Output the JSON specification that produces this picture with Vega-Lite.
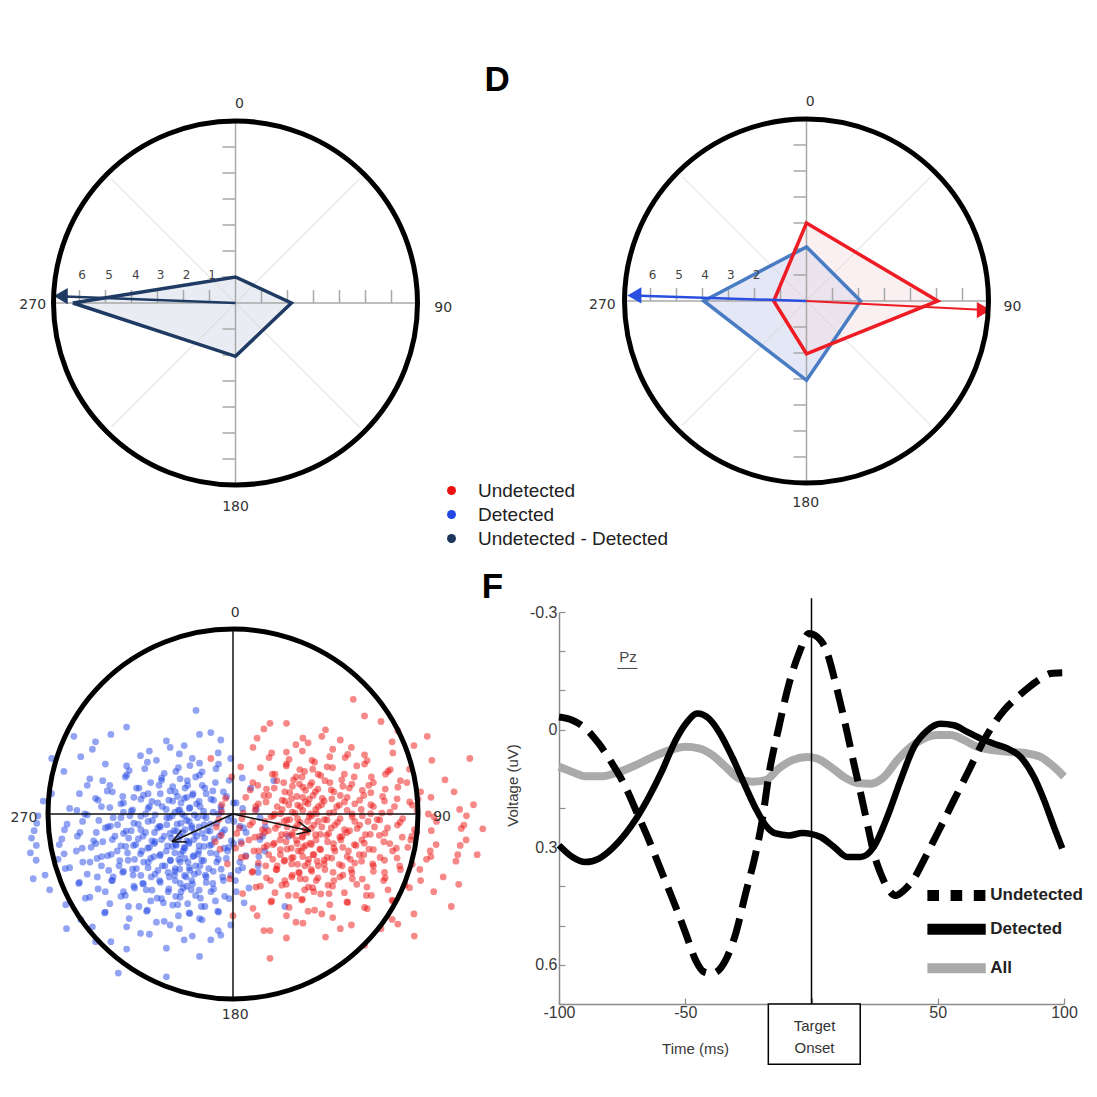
{
"$schema":"https://vega.github.io/schema/vega-lite/v6.json",
"background":"white",
"padding":{"left":10,"top":40,"right":5,"bottom":5},
"bounds":"flush",
"columns":2,
"spacing":{"row":83,"column":100},
"config":{"view":{"stroke":null},"text":{"font":"Liberation Sans"}},
"datasets":{
"grid":[
{"k":"d","x":-4.77,"y":4.77,"x2":4.77,"y2":-4.77},{"k":"d","x":4.77,"y":4.77,"x2":-4.77,"y2":-4.77},
{"k":"a","x":-7,"y":0,"x2":7,"y2":0},{"k":"a","x":0,"y":-7,"x2":0,"y2":7},
{"k":"t","x":-6,"y":0,"x2":-6,"y2":0.5},{"k":"t","x":-5,"y":0,"x2":-5,"y2":0.5},{"k":"t","x":-4,"y":0,"x2":-4,"y2":0.5},{"k":"t","x":-3,"y":0,"x2":-3,"y2":0.5},{"k":"t","x":-2,"y":0,"x2":-2,"y2":0.5},{"k":"t","x":-1,"y":0,"x2":-1,"y2":0.5},
{"k":"t","x":1,"y":0,"x2":1,"y2":0.5},{"k":"t","x":2,"y":0,"x2":2,"y2":0.5},{"k":"t","x":3,"y":0,"x2":3,"y2":0.5},{"k":"t","x":4,"y":0,"x2":4,"y2":0.5},{"k":"t","x":5,"y":0,"x2":5,"y2":0.5},{"k":"t","x":6,"y":0,"x2":6,"y2":0.5},
{"k":"t","x":-0.5,"y":-6,"x2":0,"y2":-6},{"k":"t","x":-0.5,"y":-5,"x2":0,"y2":-5},{"k":"t","x":-0.5,"y":-4,"x2":0,"y2":-4},{"k":"t","x":-0.5,"y":-3,"x2":0,"y2":-3},{"k":"t","x":-0.5,"y":-2,"x2":0,"y2":-2},{"k":"t","x":-0.5,"y":-1,"x2":0,"y2":-1},
{"k":"t","x":-0.5,"y":1,"x2":0,"y2":1},{"k":"t","x":-0.5,"y":2,"x2":0,"y2":2},{"k":"t","x":-0.5,"y":3,"x2":0,"y2":3},{"k":"t","x":-0.5,"y":4,"x2":0,"y2":4},{"k":"t","x":-0.5,"y":5,"x2":0,"y2":5},{"k":"t","x":-0.5,"y":6,"x2":0,"y2":6}
],
"tlpoly":[{"x":-6.25,"y":0,"y2":0},{"x":0,"y":1.0,"y2":-2.05},{"x":2.15,"y":0,"y2":0}],
"trblue":[{"x":-3.95,"y":0,"y2":0},{"x":0,"y":2.08,"y2":-3.05},{"x":2.08,"y":0,"y2":0}],
"trred":[{"x":-1.26,"y":0,"y2":0},{"x":0,"y":3.0,"y2":-2.03},{"x":5.05,"y":0,"y2":0}],
"blue":[
{"x":-0.575,"y":0.47},{"x":-0.181,"y":0.43},
{"x":-0.743,"y":0.39},{"x":-0.452,"y":0.34},{"x":-0.264,"y":0.37},{"x":-0.066,"y":0.40},
{"x":-0.823,"y":0.31},{"x":-0.575,"y":0.26},{"x":-0.414,"y":0.29},{"x":-0.29,"y":0.325},{"x":-0.181,"y":0.275},{"x":-0.012,"y":0.30},
{"x":-0.914,"y":0.23},{"x":-0.704,"y":0.18},{"x":-0.575,"y":0.21},{"x":-0.477,"y":0.245},{"x":-0.386,"y":0.195},{"x":-0.309,"y":0.23},{"x":-0.247,"y":0.18},{"x":-0.181,"y":0.21},{"x":-0.092,"y":0.245},{"x":0.05,"y":0.195},
{"x":-0.981,"y":0.11},{"x":-0.788,"y":0.155},{"x":-0.68,"y":0.125},{"x":-0.596,"y":0.095},{"x":-0.522,"y":0.14},{"x":-0.459,"y":0.11},{"x":-0.40,"y":0.155},{"x":-0.34,"y":0.125},{"x":-0.30,"y":0.095},{"x":-0.259,"y":0.14},{"x":-0.216,"y":0.11},{"x":-0.166,"y":0.155},{"x":-0.109,"y":0.125},{"x":-0.035,"y":0.095},{"x":0.096,"y":0.14},
{"x":-1.026,"y":0.07},{"x":-0.844,"y":0.02},{"x":-0.743,"y":0.085},{"x":-0.666,"y":0.035},{"x":-0.606,"y":0.055},{"x":-0.55,"y":0.015},{"x":-0.498,"y":0.08},{"x":-0.452,"y":0.04},{"x":-0.407,"y":0.06},{"x":-0.361,"y":0.025},{"x":-0.326,"y":0.07},{"x":-0.295,"y":0.02},{"x":-0.264,"y":0.085},{"x":-0.233,"y":0.035},{"x":-0.197,"y":0.055},{"x":-0.159,"y":0.015},{"x":-0.119,"y":0.08},{"x":-0.066,"y":0.04},{"x":0.003,"y":0.06},{"x":0.126,"y":0.025},
{"x":-1.054,"y":-0.01},{"x":-0.897,"y":-0.055},{"x":-0.802,"y":0.0},{"x":-0.725,"y":-0.035},{"x":-0.662,"y":-0.065},{"x":-0.606,"y":-0.02},{"x":-0.557,"y":-0.01},{"x":-0.512,"y":-0.055},{"x":-0.473,"y":0.0},{"x":-0.435,"y":-0.035},{"x":-0.396,"y":-0.065},{"x":-0.358,"y":-0.02},{"x":-0.328,"y":-0.01},{"x":-0.302,"y":-0.055},{"x":-0.276,"y":0.0},{"x":-0.25,"y":-0.035},{"x":-0.223,"y":-0.065},{"x":-0.192,"y":-0.02},{"x":-0.159,"y":-0.01},{"x":-0.121,"y":-0.055},{"x":-0.078,"y":0.0},{"x":-0.026,"y":-0.035},{"x":0.038,"y":-0.065},{"x":0.146,"y":-0.02},
{"x":-1.075,"y":-0.09},{"x":-0.925,"y":-0.135},{"x":-0.827,"y":-0.10},{"x":-0.753,"y":-0.145},{"x":-0.69,"y":-0.075},{"x":-0.638,"y":-0.12},{"x":-0.592,"y":-0.105},{"x":-0.55,"y":-0.09},{"x":-0.512,"y":-0.135},{"x":-0.473,"y":-0.10},{"x":-0.438,"y":-0.145},{"x":-0.407,"y":-0.075},{"x":-0.372,"y":-0.12},{"x":-0.34,"y":-0.105},{"x":-0.319,"y":-0.09},{"x":-0.295,"y":-0.135},{"x":-0.273,"y":-0.10},{"x":-0.25,"y":-0.145},{"x":-0.223,"y":-0.075},{"x":-0.197,"y":-0.12},{"x":-0.169,"y":-0.105},{"x":-0.138,"y":-0.09},{"x":-0.102,"y":-0.135},{"x":-0.059,"y":-0.10},{"x":-0.009,"y":-0.145},{"x":0.057,"y":-0.075},{"x":0.16,"y":-0.12},
{"x":-1.063,"y":-0.17},{"x":-0.913,"y":-0.215},{"x":-0.815,"y":-0.185},{"x":-0.741,"y":-0.16},{"x":-0.678,"y":-0.225},{"x":-0.626,"y":-0.20},{"x":-0.58,"y":-0.175},{"x":-0.538,"y":-0.17},{"x":-0.50,"y":-0.215},{"x":-0.461,"y":-0.185},{"x":-0.426,"y":-0.16},{"x":-0.395,"y":-0.225},{"x":-0.36,"y":-0.20},{"x":-0.328,"y":-0.175},{"x":-0.307,"y":-0.17},{"x":-0.283,"y":-0.215},{"x":-0.261,"y":-0.185},{"x":-0.238,"y":-0.16},{"x":-0.211,"y":-0.225},{"x":-0.185,"y":-0.20},{"x":-0.157,"y":-0.175},{"x":-0.126,"y":-0.17},{"x":-0.09,"y":-0.215},{"x":-0.047,"y":-0.185},{"x":0.003,"y":-0.16},{"x":0.069,"y":-0.225},{"x":0.172,"y":-0.20},
{"x":-1.064,"y":-0.25},{"x":-0.907,"y":-0.295},{"x":-0.812,"y":-0.26},{"x":-0.735,"y":-0.24},{"x":-0.672,"y":-0.305},{"x":-0.616,"y":-0.28},{"x":-0.567,"y":-0.25},{"x":-0.522,"y":-0.295},{"x":-0.483,"y":-0.26},{"x":-0.445,"y":-0.24},{"x":-0.406,"y":-0.305},{"x":-0.368,"y":-0.28},{"x":-0.338,"y":-0.25},{"x":-0.312,"y":-0.295},{"x":-0.286,"y":-0.26},{"x":-0.26,"y":-0.24},{"x":-0.233,"y":-0.305},{"x":-0.202,"y":-0.28},{"x":-0.169,"y":-0.25},{"x":-0.131,"y":-0.295},{"x":-0.088,"y":-0.26},{"x":-0.036,"y":-0.24},{"x":0.028,"y":-0.305},{"x":0.136,"y":-0.28},
{"x":-1.016,"y":-0.33},{"x":-0.834,"y":-0.375},{"x":-0.733,"y":-0.34},{"x":-0.656,"y":-0.36},{"x":-0.596,"y":-0.315},{"x":-0.54,"y":-0.33},{"x":-0.488,"y":-0.375},{"x":-0.442,"y":-0.34},{"x":-0.397,"y":-0.36},{"x":-0.351,"y":-0.315},{"x":-0.316,"y":-0.33},{"x":-0.285,"y":-0.375},{"x":-0.254,"y":-0.34},{"x":-0.223,"y":-0.36},{"x":-0.187,"y":-0.315},{"x":-0.149,"y":-0.33},{"x":-0.109,"y":-0.375},{"x":-0.056,"y":-0.34},{"x":0.013,"y":-0.36},{"x":0.136,"y":-0.315},
{"x":-0.991,"y":-0.41},{"x":-0.798,"y":-0.455},{"x":-0.69,"y":-0.42},{"x":-0.606,"y":-0.445},{"x":-0.532,"y":-0.40},{"x":-0.469,"y":-0.41},{"x":-0.41,"y":-0.455},{"x":-0.35,"y":-0.42},{"x":-0.31,"y":-0.445},{"x":-0.269,"y":-0.40},{"x":-0.226,"y":-0.41},{"x":-0.176,"y":-0.455},{"x":-0.119,"y":-0.42},{"x":-0.045,"y":-0.445},{"x":0.086,"y":-0.40},
{"x":-0.904,"y":-0.49},{"x":-0.694,"y":-0.535},{"x":-0.565,"y":-0.50},{"x":-0.467,"y":-0.525},{"x":-0.376,"y":-0.48},{"x":-0.299,"y":-0.49},{"x":-0.237,"y":-0.535},{"x":-0.171,"y":-0.50},{"x":-0.082,"y":-0.525},{"x":0.06,"y":-0.48},
{"x":-0.823,"y":-0.57},{"x":-0.575,"y":-0.61},{"x":-0.414,"y":-0.585},{"x":-0.29,"y":-0.62},{"x":-0.181,"y":-0.565},{"x":-0.012,"y":-0.60},
{"x":-0.743,"y":-0.69},{"x":-0.452,"y":-0.65},{"x":-0.264,"y":-0.68},{"x":-0.066,"y":-0.655},
{"x":-0.575,"y":-0.73},{"x":-0.181,"y":-0.77},
{"x":-0.98,"y":0.3},{"x":-1.08,"y":-0.35},{"x":-0.2,"y":0.56},{"x":0.28,"y":-0.5},{"x":-0.62,"y":-0.86},{"x":0.22,"y":0.18},{"x":-0.9,"y":-0.62},{"x":-0.86,"y":0.42},{"x":-0.36,"y":-0.88},{"x":0.3,"y":-0.12},
{"x":-0.66,"y":0.43},{"x":-0.36,"y":0.395},{"x":-0.12,"y":0.44},
{"x":-0.76,"y":0.35},{"x":-0.50,"y":0.315},{"x":-0.34,"y":0.36},{"x":-0.22,"y":0.30},{"x":-0.08,"y":0.33},
{"x":-0.69,"y":0.27},{"x":-0.561,"y":0.235},{"x":-0.463,"y":0.28},{"x":-0.372,"y":0.22},{"x":-0.295,"y":0.25},{"x":-0.233,"y":0.262},{"x":-0.167,"y":0.228},{"x":-0.078,"y":0.27},
{"x":-0.774,"y":0.19},{"x":-0.666,"y":0.155},{"x":-0.582,"y":0.20},{"x":-0.508,"y":0.14},{"x":-0.445,"y":0.17},{"x":-0.386,"y":0.182},{"x":-0.326,"y":0.148},{"x":-0.286,"y":0.19},{"x":-0.245,"y":0.155},{"x":-0.202,"y":0.20},{"x":-0.152,"y":0.14},{"x":-0.095,"y":0.17},{"x":-0.021,"y":0.182},
{"x":-0.83,"y":0.11},{"x":-0.729,"y":0.075},{"x":-0.652,"y":0.12},{"x":-0.592,"y":0.06},{"x":-0.536,"y":0.09},{"x":-0.484,"y":0.102},{"x":-0.438,"y":0.068},{"x":-0.393,"y":0.11},{"x":-0.347,"y":0.075},{"x":-0.312,"y":0.12},{"x":-0.281,"y":0.06},{"x":-0.25,"y":0.09},{"x":-0.219,"y":0.102},{"x":-0.183,"y":0.068},{"x":-0.145,"y":0.11},{"x":-0.105,"y":0.075},{"x":-0.052,"y":0.12},{"x":0.017,"y":0.06},
{"x":-0.883,"y":0.03},{"x":-0.788,"y":-0.005},{"x":-0.711,"y":0.04},{"x":-0.648,"y":-0.02},{"x":-0.592,"y":0.01},{"x":-0.543,"y":0.022},{"x":-0.498,"y":-0.012},{"x":-0.459,"y":0.03},{"x":-0.421,"y":-0.005},{"x":-0.382,"y":0.04},{"x":-0.344,"y":-0.02},{"x":-0.314,"y":0.01},{"x":-0.288,"y":0.022},{"x":-0.262,"y":-0.012},{"x":-0.236,"y":0.03},{"x":-0.209,"y":-0.005},{"x":-0.178,"y":0.04},{"x":-0.145,"y":-0.02},{"x":-0.107,"y":0.01},{"x":-0.064,"y":0.022},{"x":-0.012,"y":-0.012},{"x":0.052,"y":0.03},
{"x":-1.061,"y":-0.05},{"x":-0.911,"y":-0.085},{"x":-0.813,"y":-0.04},{"x":-0.739,"y":-0.10},{"x":-0.676,"y":-0.07},{"x":-0.624,"y":-0.058},{"x":-0.578,"y":-0.092},{"x":-0.536,"y":-0.05},{"x":-0.498,"y":-0.085},{"x":-0.459,"y":-0.04},{"x":-0.424,"y":-0.10},{"x":-0.393,"y":-0.07},{"x":-0.358,"y":-0.058},{"x":-0.305,"y":-0.092},{"x":-0.281,"y":-0.05},{"x":-0.259,"y":-0.085},{"x":-0.236,"y":-0.04},{"x":-0.209,"y":-0.10},{"x":-0.183,"y":-0.07},{"x":-0.155,"y":-0.058},{"x":-0.124,"y":-0.092},{"x":-0.088,"y":-0.05},{"x":-0.045,"y":-0.085},{"x":0.005,"y":-0.04},{"x":0.071,"y":-0.10},{"x":0.174,"y":-0.07},
{"x":-1.089,"y":-0.13},{"x":-0.939,"y":-0.165},{"x":-0.841,"y":-0.12},{"x":-0.767,"y":-0.18},{"x":-0.704,"y":-0.15},{"x":-0.652,"y":-0.138},{"x":-0.606,"y":-0.172},{"x":-0.564,"y":-0.13},{"x":-0.526,"y":-0.165},{"x":-0.487,"y":-0.12},{"x":-0.452,"y":-0.18},{"x":-0.421,"y":-0.15},{"x":-0.386,"y":-0.138},{"x":-0.354,"y":-0.172},{"x":-0.333,"y":-0.13},{"x":-0.309,"y":-0.165},{"x":-0.287,"y":-0.12},{"x":-0.264,"y":-0.18},{"x":-0.237,"y":-0.15},{"x":-0.211,"y":-0.138},{"x":-0.183,"y":-0.172},{"x":-0.152,"y":-0.13},{"x":-0.116,"y":-0.165},{"x":-0.073,"y":-0.12},{"x":-0.023,"y":-0.18},{"x":0.043,"y":-0.15},{"x":0.146,"y":-0.138},
{"x":-1.095,"y":-0.21},{"x":-0.945,"y":-0.245},{"x":-0.847,"y":-0.20},{"x":-0.773,"y":-0.26},{"x":-0.71,"y":-0.23},{"x":-0.658,"y":-0.218},{"x":-0.612,"y":-0.252},{"x":-0.57,"y":-0.21},{"x":-0.532,"y":-0.245},{"x":-0.493,"y":-0.20},{"x":-0.458,"y":-0.26},{"x":-0.427,"y":-0.23},{"x":-0.392,"y":-0.218},{"x":-0.339,"y":-0.252},{"x":-0.315,"y":-0.21},{"x":-0.293,"y":-0.245},{"x":-0.27,"y":-0.20},{"x":-0.243,"y":-0.26},{"x":-0.217,"y":-0.23},{"x":-0.189,"y":-0.218},{"x":-0.158,"y":-0.252},{"x":-0.122,"y":-0.21},{"x":-0.079,"y":-0.245},{"x":-0.029,"y":-0.20},{"x":0.037,"y":-0.26},{"x":0.14,"y":-0.23},
{"x":-0.883,"y":-0.29},{"x":-0.788,"y":-0.325},{"x":-0.711,"y":-0.28},{"x":-0.648,"y":-0.34},{"x":-0.592,"y":-0.31},{"x":-0.543,"y":-0.298},{"x":-0.498,"y":-0.332},{"x":-0.459,"y":-0.29},{"x":-0.421,"y":-0.325},{"x":-0.382,"y":-0.28},{"x":-0.344,"y":-0.34},{"x":-0.314,"y":-0.31},{"x":-0.288,"y":-0.298},{"x":-0.262,"y":-0.332},{"x":-0.236,"y":-0.29},{"x":-0.209,"y":-0.325},{"x":-0.178,"y":-0.28},{"x":-0.145,"y":-0.34},{"x":-0.107,"y":-0.31},{"x":-0.064,"y":-0.298},{"x":-0.012,"y":-0.332},{"x":0.052,"y":-0.29},
{"x":-0.83,"y":-0.37},{"x":-0.729,"y":-0.405},{"x":-0.652,"y":-0.36},{"x":-0.592,"y":-0.42},{"x":-0.536,"y":-0.39},{"x":-0.484,"y":-0.378},{"x":-0.438,"y":-0.412},{"x":-0.393,"y":-0.37},{"x":-0.347,"y":-0.405},{"x":-0.312,"y":-0.36},{"x":-0.281,"y":-0.42},{"x":-0.25,"y":-0.39},{"x":-0.219,"y":-0.378},{"x":-0.183,"y":-0.412},{"x":-0.145,"y":-0.37},{"x":-0.105,"y":-0.405},{"x":-0.052,"y":-0.36},{"x":0.017,"y":-0.42},
{"x":-0.774,"y":-0.45},{"x":-0.666,"y":-0.485},{"x":-0.582,"y":-0.44},{"x":-0.508,"y":-0.50},{"x":-0.445,"y":-0.47},{"x":-0.386,"y":-0.458},{"x":-0.326,"y":-0.492},{"x":-0.286,"y":-0.45},{"x":-0.245,"y":-0.485},{"x":-0.202,"y":-0.44},{"x":-0.152,"y":-0.50},{"x":-0.095,"y":-0.47},{"x":-0.021,"y":-0.458},
{"x":-0.69,"y":-0.53},{"x":-0.561,"y":-0.565},{"x":-0.463,"y":-0.52},{"x":-0.372,"y":-0.58},{"x":-0.295,"y":-0.55},{"x":-0.233,"y":-0.538},{"x":-0.167,"y":-0.572},{"x":-0.078,"y":-0.53},
{"x":-0.76,"y":-0.61},{"x":-0.50,"y":-0.645},{"x":-0.34,"y":-0.60},{"x":-0.22,"y":-0.66},{"x":-0.08,"y":-0.63},
{"x":-0.66,"y":-0.69},{"x":-0.36,"y":-0.725},{"x":-0.12,"y":-0.68}
],
"red":[
{"x":0.289,"y":0.49},{"x":0.711,"y":0.53},
{"x":0.167,"y":0.46},{"x":0.378,"y":0.41},{"x":0.58,"y":0.40},{"x":0.891,"y":0.45},
{"x":0.108,"y":0.36},{"x":0.289,"y":0.335},{"x":0.406,"y":0.385},{"x":0.539,"y":0.35},{"x":0.711,"y":0.32},{"x":0.978,"y":0.37},
{"x":0.042,"y":0.255},{"x":0.195,"y":0.305},{"x":0.289,"y":0.27},{"x":0.361,"y":0.24},{"x":0.427,"y":0.29},{"x":0.509,"y":0.255},{"x":0.606,"y":0.305},{"x":0.711,"y":0.27},{"x":0.85,"y":0.24},{"x":1.075,"y":0.29},
{"x":-0.007,"y":0.2},{"x":0.134,"y":0.155},{"x":0.213,"y":0.215},{"x":0.274,"y":0.17},{"x":0.327,"y":0.185},{"x":0.373,"y":0.2},{"x":0.417,"y":0.155},{"x":0.46,"y":0.215},{"x":0.524,"y":0.17},{"x":0.588,"y":0.185},{"x":0.655,"y":0.2},{"x":0.734,"y":0.155},{"x":0.824,"y":0.215},{"x":0.94,"y":0.17},{"x":1.146,"y":0.185},
{"x":-0.04,"y":0.085},{"x":0.093,"y":0.13},{"x":0.167,"y":0.1},{"x":0.223,"y":0.14},{"x":0.266,"y":0.075},{"x":0.307,"y":0.115},{"x":0.345,"y":0.095},{"x":0.378,"y":0.145},{"x":0.412,"y":0.08},{"x":0.445,"y":0.12},{"x":0.483,"y":0.085},{"x":0.531,"y":0.13},{"x":0.58,"y":0.1},{"x":0.629,"y":0.14},{"x":0.685,"y":0.075},{"x":0.745,"y":0.115},{"x":0.809,"y":0.095},{"x":0.891,"y":0.145},{"x":1.0,"y":0.08},{"x":1.195,"y":0.12},
{"x":-0.06,"y":0.05},{"x":0.055,"y":0.005},{"x":0.123,"y":0.04},{"x":0.179,"y":0.065},{"x":0.225,"y":0.0},{"x":0.266,"y":0.025},{"x":0.302,"y":0.05},{"x":0.335,"y":0.005},{"x":0.363,"y":0.04},{"x":0.391,"y":0.065},{"x":0.419,"y":0.0},{"x":0.447,"y":0.025},{"x":0.479,"y":0.05},{"x":0.52,"y":0.005},{"x":0.561,"y":0.04},{"x":0.603,"y":0.065},{"x":0.644,"y":0.0},{"x":0.693,"y":0.025},{"x":0.745,"y":0.05},{"x":0.805,"y":0.005},{"x":0.873,"y":0.04},{"x":0.955,"y":0.065},{"x":1.056,"y":0.0},{"x":1.225,"y":0.025},
{"x":-0.076,"y":-0.03},{"x":0.034,"y":-0.075},{"x":0.106,"y":-0.045},{"x":0.159,"y":-0.085},{"x":0.205,"y":-0.015},{"x":0.243,"y":-0.06},{"x":0.276,"y":-0.04},{"x":0.307,"y":-0.03},{"x":0.335,"y":-0.075},{"x":0.363,"y":-0.045},{"x":0.389,"y":-0.085},{"x":0.412,"y":-0.015},{"x":0.437,"y":-0.06},{"x":0.46,"y":-0.04},{"x":0.494,"y":-0.03},{"x":0.531,"y":-0.075},{"x":0.565,"y":-0.045},{"x":0.603,"y":-0.085},{"x":0.644,"y":-0.015},{"x":0.685,"y":-0.06},{"x":0.73,"y":-0.04},{"x":0.779,"y":-0.03},{"x":0.835,"y":-0.075},{"x":0.903,"y":-0.045},{"x":0.981,"y":-0.085},{"x":1.086,"y":-0.015},{"x":1.248,"y":-0.06},
{"x":-0.064,"y":-0.115},{"x":0.046,"y":-0.16},{"x":0.118,"y":-0.125},{"x":0.171,"y":-0.10},{"x":0.217,"y":-0.165},{"x":0.255,"y":-0.14},{"x":0.288,"y":-0.11},{"x":0.319,"y":-0.115},{"x":0.347,"y":-0.16},{"x":0.375,"y":-0.125},{"x":0.401,"y":-0.10},{"x":0.424,"y":-0.165},{"x":0.449,"y":-0.14},{"x":0.472,"y":-0.11},{"x":0.506,"y":-0.115},{"x":0.543,"y":-0.16},{"x":0.577,"y":-0.125},{"x":0.615,"y":-0.10},{"x":0.656,"y":-0.165},{"x":0.697,"y":-0.14},{"x":0.742,"y":-0.11},{"x":0.791,"y":-0.115},{"x":0.847,"y":-0.16},{"x":0.915,"y":-0.125},{"x":0.993,"y":-0.10},{"x":1.098,"y":-0.165},{"x":1.26,"y":-0.14},
{"x":-0.07,"y":-0.19},{"x":0.045,"y":-0.235},{"x":0.113,"y":-0.20},{"x":0.169,"y":-0.18},{"x":0.215,"y":-0.245},{"x":0.256,"y":-0.22},{"x":0.292,"y":-0.19},{"x":0.325,"y":-0.235},{"x":0.353,"y":-0.20},{"x":0.381,"y":-0.18},{"x":0.409,"y":-0.245},{"x":0.437,"y":-0.22},{"x":0.469,"y":-0.19},{"x":0.51,"y":-0.235},{"x":0.551,"y":-0.20},{"x":0.593,"y":-0.18},{"x":0.634,"y":-0.245},{"x":0.683,"y":-0.22},{"x":0.735,"y":-0.19},{"x":0.795,"y":-0.235},{"x":0.863,"y":-0.20},{"x":0.945,"y":-0.18},{"x":1.046,"y":-0.245},{"x":1.215,"y":-0.22},
{"x":-0.03,"y":-0.27},{"x":0.103,"y":-0.315},{"x":0.177,"y":-0.28},{"x":0.233,"y":-0.30},{"x":0.276,"y":-0.255},{"x":0.317,"y":-0.27},{"x":0.355,"y":-0.315},{"x":0.388,"y":-0.28},{"x":0.422,"y":-0.30},{"x":0.455,"y":-0.255},{"x":0.493,"y":-0.27},{"x":0.541,"y":-0.315},{"x":0.59,"y":-0.28},{"x":0.639,"y":-0.30},{"x":0.695,"y":-0.255},{"x":0.755,"y":-0.27},{"x":0.819,"y":-0.315},{"x":0.901,"y":-0.28},{"x":1.01,"y":-0.30},{"x":1.205,"y":-0.255},
{"x":-0.017,"y":-0.35},{"x":0.124,"y":-0.395},{"x":0.203,"y":-0.36},{"x":0.264,"y":-0.385},{"x":0.317,"y":-0.34},{"x":0.363,"y":-0.35},{"x":0.407,"y":-0.395},{"x":0.45,"y":-0.36},{"x":0.514,"y":-0.385},{"x":0.578,"y":-0.34},{"x":0.645,"y":-0.35},{"x":0.724,"y":-0.395},{"x":0.814,"y":-0.36},{"x":0.93,"y":-0.385},{"x":1.136,"y":-0.34},
{"x":0.052,"y":-0.43},{"x":0.205,"y":-0.475},{"x":0.299,"y":-0.44},{"x":0.371,"y":-0.465},{"x":0.437,"y":-0.42},{"x":0.519,"y":-0.43},{"x":0.616,"y":-0.475},{"x":0.721,"y":-0.44},{"x":0.86,"y":-0.465},{"x":1.085,"y":-0.42},
{"x":0.108,"y":-0.51},{"x":0.289,"y":-0.55},{"x":0.406,"y":-0.525},{"x":0.539,"y":-0.56},{"x":0.711,"y":-0.505},{"x":0.978,"y":-0.54},
{"x":0.167,"y":-0.63},{"x":0.378,"y":-0.59},{"x":0.58,"y":-0.62},{"x":0.891,"y":-0.595},
{"x":0.289,"y":-0.67},{"x":0.711,"y":-0.71},
{"x":1.3,"y":0.05},{"x":1.32,"y":-0.22},{"x":1.28,"y":0.3},{"x":1.18,"y":-0.5},{"x":1.05,"y":0.42},{"x":0.98,"y":-0.66},{"x":0.65,"y":0.62},{"x":0.2,"y":-0.78},{"x":1.35,"y":-0.08},{"x":-0.12,"y":0.3},{"x":0.0,"y":-0.55},{"x":1.22,"y":-0.38},
{"x":0.20,"y":0.49},{"x":0.50,"y":0.455},{"x":0.80,"y":0.50},
{"x":0.13,"y":0.41},{"x":0.34,"y":0.375},{"x":0.48,"y":0.42},{"x":0.64,"y":0.36},{"x":0.86,"y":0.39},
{"x":0.209,"y":0.33},{"x":0.303,"y":0.295},{"x":0.375,"y":0.34},{"x":0.441,"y":0.28},{"x":0.523,"y":0.31},{"x":0.62,"y":0.322},{"x":0.725,"y":0.288},{"x":0.864,"y":0.33},
{"x":0.148,"y":0.25},{"x":0.227,"y":0.215},{"x":0.288,"y":0.26},{"x":0.341,"y":0.20},{"x":0.387,"y":0.23},{"x":0.431,"y":0.242},{"x":0.474,"y":0.208},{"x":0.538,"y":0.25},{"x":0.602,"y":0.215},{"x":0.669,"y":0.26},{"x":0.748,"y":0.20},{"x":0.838,"y":0.23},{"x":0.954,"y":0.242},
{"x":0.107,"y":0.17},{"x":0.181,"y":0.135},{"x":0.237,"y":0.18},{"x":0.28,"y":0.12},{"x":0.321,"y":0.15},{"x":0.359,"y":0.162},{"x":0.392,"y":0.128},{"x":0.426,"y":0.17},{"x":0.459,"y":0.135},{"x":0.497,"y":0.18},{"x":0.545,"y":0.12},{"x":0.594,"y":0.15},{"x":0.643,"y":0.162},{"x":0.699,"y":0.128},{"x":0.759,"y":0.17},{"x":0.823,"y":0.135},{"x":0.905,"y":0.18},{"x":1.014,"y":0.12},
{"x":0.069,"y":0.09},{"x":0.137,"y":0.055},{"x":0.193,"y":0.10},{"x":0.239,"y":0.04},{"x":0.28,"y":0.07},{"x":0.316,"y":0.082},{"x":0.349,"y":0.048},{"x":0.377,"y":0.09},{"x":0.405,"y":0.055},{"x":0.433,"y":0.10},{"x":0.461,"y":0.04},{"x":0.493,"y":0.07},{"x":0.534,"y":0.082},{"x":0.575,"y":0.048},{"x":0.617,"y":0.09},{"x":0.658,"y":0.055},{"x":0.707,"y":0.10},{"x":0.759,"y":0.04},{"x":0.819,"y":0.07},{"x":0.887,"y":0.082},{"x":0.969,"y":0.048},{"x":1.07,"y":0.09},
{"x":-0.062,"y":0.01},{"x":0.048,"y":-0.025},{"x":0.12,"y":0.02},{"x":0.173,"y":-0.04},{"x":0.219,"y":-0.01},{"x":0.257,"y":0.002},{"x":0.29,"y":-0.032},{"x":0.321,"y":0.01},{"x":0.349,"y":-0.025},{"x":0.377,"y":0.02},{"x":0.403,"y":-0.04},{"x":0.426,"y":-0.01},{"x":0.451,"y":0.002},{"x":0.508,"y":-0.032},{"x":0.545,"y":0.01},{"x":0.579,"y":-0.025},{"x":0.617,"y":0.02},{"x":0.658,"y":-0.04},{"x":0.699,"y":-0.01},{"x":0.744,"y":0.002},{"x":0.793,"y":-0.032},{"x":0.849,"y":0.01},{"x":0.917,"y":-0.025},{"x":0.995,"y":0.02},{"x":1.1,"y":-0.04},{"x":1.262,"y":-0.01},
{"x":-0.09,"y":-0.07},{"x":0.02,"y":-0.105},{"x":0.092,"y":-0.06},{"x":0.145,"y":-0.12},{"x":0.191,"y":-0.09},{"x":0.229,"y":-0.078},{"x":0.262,"y":-0.112},{"x":0.293,"y":-0.07},{"x":0.321,"y":-0.105},{"x":0.349,"y":-0.06},{"x":0.375,"y":-0.12},{"x":0.398,"y":-0.09},{"x":0.423,"y":-0.078},{"x":0.446,"y":-0.112},{"x":0.48,"y":-0.07},{"x":0.517,"y":-0.105},{"x":0.551,"y":-0.06},{"x":0.589,"y":-0.12},{"x":0.63,"y":-0.09},{"x":0.671,"y":-0.078},{"x":0.716,"y":-0.112},{"x":0.765,"y":-0.07},{"x":0.821,"y":-0.105},{"x":0.889,"y":-0.06},{"x":0.967,"y":-0.12},{"x":1.072,"y":-0.09},{"x":1.234,"y":-0.078},
{"x":-0.096,"y":-0.15},{"x":0.014,"y":-0.185},{"x":0.086,"y":-0.14},{"x":0.139,"y":-0.20},{"x":0.185,"y":-0.17},{"x":0.223,"y":-0.158},{"x":0.256,"y":-0.192},{"x":0.287,"y":-0.15},{"x":0.315,"y":-0.185},{"x":0.343,"y":-0.14},{"x":0.369,"y":-0.20},{"x":0.392,"y":-0.17},{"x":0.417,"y":-0.158},{"x":0.474,"y":-0.192},{"x":0.511,"y":-0.15},{"x":0.545,"y":-0.185},{"x":0.583,"y":-0.14},{"x":0.624,"y":-0.20},{"x":0.665,"y":-0.17},{"x":0.71,"y":-0.158},{"x":0.759,"y":-0.192},{"x":0.815,"y":-0.15},{"x":0.883,"y":-0.185},{"x":0.961,"y":-0.14},{"x":1.066,"y":-0.20},{"x":1.228,"y":-0.17},
{"x":0.069,"y":-0.23},{"x":0.137,"y":-0.265},{"x":0.193,"y":-0.22},{"x":0.239,"y":-0.28},{"x":0.28,"y":-0.25},{"x":0.316,"y":-0.238},{"x":0.349,"y":-0.272},{"x":0.377,"y":-0.23},{"x":0.405,"y":-0.265},{"x":0.433,"y":-0.22},{"x":0.461,"y":-0.28},{"x":0.493,"y":-0.25},{"x":0.534,"y":-0.238},{"x":0.575,"y":-0.272},{"x":0.617,"y":-0.23},{"x":0.658,"y":-0.265},{"x":0.707,"y":-0.22},{"x":0.759,"y":-0.28},{"x":0.819,"y":-0.25},{"x":0.887,"y":-0.238},{"x":0.969,"y":-0.272},{"x":1.07,"y":-0.23},
{"x":0.107,"y":-0.31},{"x":0.181,"y":-0.345},{"x":0.237,"y":-0.30},{"x":0.28,"y":-0.36},{"x":0.321,"y":-0.33},{"x":0.359,"y":-0.318},{"x":0.392,"y":-0.352},{"x":0.426,"y":-0.31},{"x":0.459,"y":-0.345},{"x":0.497,"y":-0.30},{"x":0.545,"y":-0.36},{"x":0.594,"y":-0.33},{"x":0.643,"y":-0.318},{"x":0.699,"y":-0.352},{"x":0.759,"y":-0.31},{"x":0.823,"y":-0.345},{"x":0.905,"y":-0.30},{"x":1.014,"y":-0.36},
{"x":0.148,"y":-0.39},{"x":0.227,"y":-0.425},{"x":0.288,"y":-0.38},{"x":0.341,"y":-0.44},{"x":0.387,"y":-0.41},{"x":0.431,"y":-0.398},{"x":0.474,"y":-0.432},{"x":0.538,"y":-0.39},{"x":0.602,"y":-0.425},{"x":0.669,"y":-0.38},{"x":0.748,"y":-0.44},{"x":0.838,"y":-0.41},{"x":0.954,"y":-0.398},
{"x":0.209,"y":-0.47},{"x":0.303,"y":-0.505},{"x":0.375,"y":-0.46},{"x":0.441,"y":-0.52},{"x":0.523,"y":-0.49},{"x":0.62,"y":-0.478},{"x":0.725,"y":-0.512},{"x":0.864,"y":-0.47},
{"x":0.13,"y":-0.55},{"x":0.34,"y":-0.585},{"x":0.48,"y":-0.54},{"x":0.64,"y":-0.60},{"x":0.86,"y":-0.57},
{"x":0.20,"y":-0.63},{"x":0.50,"y":-0.665},{"x":0.80,"y":-0.62}
],
"und":[{"x":-100,"y":-0.032},{"x":-94.7,"y":-0.024},{"x":-89.5,"y":-0.003},{"x":-84.2,"y":0.036},{"x":-78.9,"y":0.087},{"x":-74.3,"y":0.138},{"x":-69,"y":0.214},{"x":-64.4,"y":0.282},{"x":-59.1,"y":0.367},{"x":-53.8,"y":0.452},{"x":-49.8,"y":0.52},{"x":-45.9,"y":0.588},{"x":-42.6,"y":0.618},{"x":-39.3,"y":0.622},{"x":-34,"y":0.588},{"x":-30,"y":0.52},{"x":-26.1,"y":0.418},{"x":-22.1,"y":0.316},{"x":-19.5,"y":0.231},{"x":-16.8,"y":0.112},{"x":-12.9,"y":-0.007},{"x":-8.9,"y":-0.117},{"x":-5,"y":-0.194},{"x":-1,"y":-0.245},{"x":3.6,"y":-0.228},{"x":6.3,"y":-0.194},{"x":8.9,"y":-0.134},{"x":11.5,"y":-0.066},{"x":14.2,"y":0.01},{"x":16.8,"y":0.087},{"x":19.5,"y":0.163},{"x":22.1,"y":0.24},{"x":24.7,"y":0.316},{"x":27.4,"y":0.367},{"x":30.7,"y":0.41},{"x":33.3,"y":0.423},{"x":36.6,"y":0.41},{"x":40.6,"y":0.38},{"x":44.5,"y":0.333},{"x":48.5,"y":0.282},{"x":52.5,"y":0.231},{"x":56.4,"y":0.18},{"x":60.4,"y":0.129},{"x":64.3,"y":0.078},{"x":68.3,"y":0.027},{"x":72.3,"y":-0.015},{"x":76.2,"y":-0.049},{"x":80.2,"y":-0.075},{"x":85.5,"y":-0.105},{"x":90.8,"y":-0.13},{"x":94.7,"y":-0.143},{"x":99.3,"y":-0.145}],
"det":[{"x":-100,"y":0.295},{"x":-94.7,"y":0.325},{"x":-89.5,"y":0.338},{"x":-84.2,"y":0.329},{"x":-78.9,"y":0.303},{"x":-73.6,"y":0.265},{"x":-69,"y":0.223},{"x":-64.4,"y":0.172},{"x":-59.1,"y":0.104},{"x":-53.8,"y":0.027},{"x":-49.8,"y":-0.015},{"x":-45.2,"y":-0.041},{"x":-40.6,"y":-0.028},{"x":-36.6,"y":0.006},{"x":-31.4,"y":0.07},{"x":-26.1,"y":0.146},{"x":-22.1,"y":0.201},{"x":-18.2,"y":0.244},{"x":-14.2,"y":0.265},{"x":-8.9,"y":0.27},{"x":-3.6,"y":0.264},{"x":-0.3,"y":0.266},{"x":3.6,"y":0.274},{"x":8.9,"y":0.299},{"x":14.2,"y":0.325},{"x":19.5,"y":0.325},{"x":24.7,"y":0.299},{"x":30,"y":0.223},{"x":35.3,"y":0.129},{"x":40.6,"y":0.044},{"x":45.9,"y":0.002},{"x":51.1,"y":-0.015},{"x":56.4,"y":-0.011},{"x":61.7,"y":0.006},{"x":67,"y":0.023},{"x":72.3,"y":0.036},{"x":77.6,"y":0.048},{"x":82.8,"y":0.07},{"x":88.1,"y":0.121},{"x":92.1,"y":0.18},{"x":96,"y":0.248},{"x":99.3,"y":0.303}],
"all":[{"x":-100,"y":0.095},{"x":-94.7,"y":0.108},{"x":-89.5,"y":0.119},{"x":-82.9,"y":0.119},{"x":-76.2,"y":0.108},{"x":-69.7,"y":0.091},{"x":-63,"y":0.07},{"x":-56.4,"y":0.053},{"x":-49.8,"y":0.044},{"x":-44.6,"y":0.048},{"x":-39.3,"y":0.065},{"x":-34,"y":0.095},{"x":-28.7,"y":0.125},{"x":-23.4,"y":0.133},{"x":-18.2,"y":0.129},{"x":-12.9,"y":0.099},{"x":-7.6,"y":0.078},{"x":-1.66,"y":0.07},{"x":2.3,"y":0.074},{"x":7.6,"y":0.095},{"x":12.9,"y":0.121},{"x":18.1,"y":0.136},{"x":23.4,"y":0.138},{"x":28.7,"y":0.121},{"x":34,"y":0.078},{"x":39.3,"y":0.044},{"x":44.5,"y":0.023},{"x":49.8,"y":0.014},{"x":55.1,"y":0.014},{"x":60.4,"y":0.027},{"x":65.7,"y":0.044},{"x":72.3,"y":0.053},{"x":78.9,"y":0.057},{"x":85.5,"y":0.061},{"x":90.8,"y":0.07},{"x":96,"y":0.095},{"x":100,"y":0.12}]
},
"concat":[
{"width":447,"height":489,
"encoding":{"x":{"field":"x","type":"quantitative","scale":{"domain":[-8.596,8.596],"nice":false,"zero":false},"axis":null},
"y":{"field":"y","type":"quantitative","scale":{"domain":[-8.692,10.115],"nice":false,"zero":false},"axis":null}},
"layer":[
{"data":{"name":"tlpoly"},"mark":{"type":"area","fill":"#e9edf3","fillOpacity":1},"encoding":{"y2":{"field":"y2"}}},
{"data":{"name":"grid"},"transform":[{"filter":"datum.k=='d'"}],"mark":{"type":"rule","color":"#d6d6d6","strokeWidth":1},"encoding":{"x2":{"field":"x2"},"y2":{"field":"y2"}}},
{"data":{"name":"grid"},"transform":[{"filter":"datum.k!='d'"}],"mark":{"type":"rule","color":"#a8a8a8","strokeWidth":1.5},"encoding":{"x2":{"field":"x2"},"y2":{"field":"y2"}}},
{"data":{"name":"tlpoly"},"mark":{"type":"area","fillOpacity":0,"stroke":"#1f3b63","strokeWidth":3.5,"strokeJoin":"miter"},"encoding":{"y2":{"field":"y2"}}},
{"data":{"values":[{"x":0,"y":0,"x2":-6.8,"y2":0.26}]},"mark":{"type":"rule","color":"#1f3b63","strokeWidth":2.5},"encoding":{"x2":{"field":"x2"},"y2":{"field":"y2"}}},
{"data":{"values":[{"x":-6.72,"y":0.265}]},"mark":{"type":"point","shape":"triangle-left","filled":true,"size":260,"color":"#1f3b63","opacity":1}},
{"data":{"values":[{"x":0,"y":0}]},"mark":{"type":"point","shape":"circle","filled":false,"size":132496,"color":"#000","strokeWidth":5,"opacity":1}},
{"data":{"values":[{"x":0.15,"y":7.65,"t":"0"},{"x":7.99,"y":-0.2,"t":"90"},{"x":0,"y":-7.83,"t":"180"},{"x":-7.8,"y":-0.08,"t":"270"}]},"mark":{"type":"text","font":"DejaVu Sans","fontSize":14,"color":"#333"},"encoding":{"text":{"field":"t"}}},
{"data":{"values":[{"x":-0.9,"y":1.08,"t":"1"},{"x":-1.88,"y":1.08,"t":"2"},{"x":-2.88,"y":1.08,"t":"3"},{"x":-3.83,"y":1.08,"t":"4"},{"x":-4.86,"y":1.08,"t":"5"},{"x":-5.9,"y":1.08,"t":"6"}]},"mark":{"type":"text","font":"DejaVu Sans","fontSize":12,"color":"#444"},"encoding":{"text":{"field":"t"}}}
]},
{"width":505,"height":489,
"encoding":{"x":{"field":"x","type":"quantitative","scale":{"domain":[-9.519,9.904],"nice":false,"zero":false},"axis":null},
"y":{"field":"y","type":"quantitative","scale":{"domain":[-8.77,10.038],"nice":false,"zero":false},"axis":null}},
"layer":[
{"data":{"name":"trblue"},"mark":{"type":"area","fill":"#dfe4f5","fillOpacity":0.85},"encoding":{"y2":{"field":"y2"}}},
{"data":{"name":"trred"},"mark":{"type":"area","fill":"#f3dde3","fillOpacity":0.45},"encoding":{"y2":{"field":"y2"}}},
{"data":{"name":"grid"},"transform":[{"filter":"datum.k=='d'"}],"mark":{"type":"rule","color":"#d6d6d6","strokeWidth":1},"encoding":{"x2":{"field":"x2"},"y2":{"field":"y2"}}},
{"data":{"name":"grid"},"transform":[{"filter":"datum.k!='d'"}],"mark":{"type":"rule","color":"#a8a8a8","strokeWidth":1.5},"encoding":{"x2":{"field":"x2"},"y2":{"field":"y2"}}},
{"data":{"name":"trblue"},"mark":{"type":"area","fillOpacity":0,"stroke":"#4a7cc4","strokeWidth":3.5,"strokeJoin":"miter"},"encoding":{"y2":{"field":"y2"}}},
{"data":{"name":"trred"},"mark":{"type":"area","fillOpacity":0,"stroke":"#ee1c24","strokeWidth":3.5,"strokeJoin":"miter"},"encoding":{"y2":{"field":"y2"}}},
{"data":{"values":[{"x":0,"y":0,"x2":-6.7,"y2":0.21}]},"mark":{"type":"rule","color":"#2a4fe0","strokeWidth":2.5},"encoding":{"x2":{"field":"x2"},"y2":{"field":"y2"}}},
{"data":{"values":[{"x":-6.62,"y":0.215}]},"mark":{"type":"point","shape":"triangle-left","filled":true,"size":260,"color":"#2a4fe0","opacity":1}},
{"data":{"values":[{"x":0,"y":0,"x2":6.9,"y2":-0.35}]},"mark":{"type":"rule","color":"#ee1c24","strokeWidth":2},"encoding":{"x2":{"field":"x2"},"y2":{"field":"y2"}}},
{"data":{"values":[{"x":6.82,"y":-0.35}]},"mark":{"type":"point","shape":"triangle-right","filled":true,"size":260,"color":"#ee1c24","opacity":1}},
{"data":{"values":[{"x":0,"y":0}]},"mark":{"type":"point","shape":"circle","filled":false,"size":132496,"color":"#000","strokeWidth":5,"opacity":1}},
{"data":{"values":[{"x":0.14,"y":7.67,"t":"0"},{"x":7.92,"y":-0.22,"t":"90"},{"x":-0.03,"y":-7.78,"t":"180"},{"x":-7.85,"y":-0.15,"t":"270"}]},"mark":{"type":"text","font":"DejaVu Sans","fontSize":14,"color":"#333"},"encoding":{"text":{"field":"t"}}},
{"data":{"values":[{"x":-1.92,"y":1.0,"t":"2"},{"x":-2.91,"y":1.0,"t":"3"},{"x":-3.9,"y":1.0,"t":"4"},{"x":-4.9,"y":1.0,"t":"5"},{"x":-5.92,"y":1.0,"t":"6"}]},"mark":{"type":"text","font":"DejaVu Sans","fontSize":12,"color":"#444"},"encoding":{"text":{"field":"t"}}},
{"data":{"values":[{"x":-11.9,"y":8.5,"t":"D"}]},"mark":{"type":"text","font":"Liberation Sans","fontSize":35,"fontWeight":"bold","color":"#000"},"encoding":{"text":{"field":"t"}}}
]},
{"width":444,"height":444,
"encoding":{"x":{"field":"x","type":"quantitative","scale":{"domain":[-1.1946,1.2054],"nice":false,"zero":false},"axis":null},
"y":{"field":"y","type":"quantitative","scale":{"domain":[-1.3081,1.0919],"nice":false,"zero":false},"axis":null}},
"layer":[
{"data":{"name":"blue"},"mark":{"type":"point","shape":"circle","filled":true,"size":46,"opacity":0.5},
"encoding":{"color":{"datum":"Detected","type":"nominal","scale":{"domain":["Undetected","Detected","Undetected - Detected"],"range":["#ee1111","#2448e6","#1c365c"]},
"legend":{"orient":"none","legendX":430,"legendY":441,"title":null,"symbolType":"circle","symbolSize":80,"symbolOpacity":1,"symbolStrokeWidth":0,"labelFont":"Liberation Sans","labelFontSize":19,"labelColor":"#222","labelOffset":17,"labelLimit":400,"rowPadding":4,"padding":0}}}},
{"data":{"name":"red"},"mark":{"type":"point","shape":"circle","filled":true,"size":46,"opacity":0.5},
"encoding":{"color":{"datum":"Undetected","type":"nominal","scale":{"domain":["Undetected","Detected","Undetected - Detected"],"range":["#ee1111","#2448e6","#1c365c"]},
"legend":{"orient":"none","legendX":430,"legendY":441,"title":null,"symbolType":"circle","symbolSize":80,"symbolOpacity":1,"symbolStrokeWidth":0,"labelFont":"Liberation Sans","labelFontSize":19,"labelColor":"#222","labelOffset":17,"labelLimit":400,"rowPadding":4,"padding":0}}}},
{"data":{"values":[{"x":-1,"y":0,"x2":1,"y2":0},{"x":0,"y":-1,"x2":0,"y2":1}]},"mark":{"type":"rule","color":"#111","strokeWidth":1.5},"encoding":{"x2":{"field":"x2"},"y2":{"field":"y2"}}},
{"data":{"values":[{"x":0,"y":0,"x2":-0.33,"y2":-0.15},{"x":0,"y":0,"x2":0.42,"y2":-0.092},{"x":-0.33,"y":-0.15,"x2":-0.278,"y2":-0.089},{"x":-0.33,"y":-0.15,"x2":-0.25,"y2":-0.151},{"x":0.42,"y":-0.092,"x2":0.342,"y2":-0.11},{"x":0.42,"y":-0.092,"x2":0.356,"y2":-0.043}]},"mark":{"type":"rule","color":"#111","strokeWidth":1.5},"encoding":{"x2":{"field":"x2"},"y2":{"field":"y2"}}},
{"data":{"values":[{"x":0,"y":0}]},"mark":{"type":"point","shape":"circle","filled":false,"size":136900,"color":"#000","strokeWidth":5,"opacity":1}},
{"data":{"values":[{"x":0.012,"y":1.084,"t":"0"},{"x":1.13,"y":-0.015,"t":"90"},{"x":0.012,"y":-1.086,"t":"180"},{"x":-1.13,"y":-0.02,"t":"270"}]},"mark":{"type":"text","font":"DejaVu Sans","fontSize":14,"color":"#333"},"encoding":{"text":{"field":"t"}}}
]},
{"width":505,"height":392,
"encoding":{"x":{"field":"x","type":"quantitative","scale":{"domain":[-100,100],"nice":false,"zero":false},
"axis":{"values":[-100,-50,0,50,100],"labelExpr":"datum.value === 0 ? '' : '' + datum.value","grid":false,"domainColor":"#8c8c8c","domainWidth":1.5,"tickColor":"#8c8c8c","tickSize":-6,"tickWidth":1.2,"labelPadding":6,"labelFont":"Liberation Sans","labelFontSize":16,"labelColor":"#3a3a3a","labelFlush":false,"labelOverlap":false,"title":"Time (ms)","titleFont":"Liberation Sans","titleFontSize":15,"titleFontWeight":"normal","titleColor":"#3a3a3a","titleX":136,"titleY":44,"titleBaseline":"middle","titleAlign":"center"}},
"y":{"field":"y","type":"quantitative","scale":{"domain":[-0.3,0.7],"reverse":true,"nice":false,"zero":false},
"axis":{"values":[-0.3,-0.2,-0.1,0,0.1,0.2,0.3,0.4,0.5,0.6,0.7],"labelExpr":"datum.value === -0.3 ? '-0.3' : datum.value === 0 ? '0' : datum.value === 0.3 ? '0.3' : datum.value === 0.6 ? '0.6' : ''","grid":false,"domainColor":"#8c8c8c","domainWidth":1.5,"tickColor":"#8c8c8c","tickSize":-6,"tickWidth":1.2,"labelPadding":8,"labelFont":"Liberation Sans","labelFontSize":16,"labelColor":"#3a3a3a","labelFlush":false,"labelOverlap":false,"title":"Voltage (uV)","titleFont":"Liberation Sans","titleFontSize":15,"titleFontWeight":"normal","titleColor":"#3a3a3a","titleX":-47,"titleY":173,"titleAngle":-90,"titleBaseline":"middle","titleAlign":"center"}}},
"layer":[
{"data":{"name":"all"},"mark":{"type":"line","color":"#aaaaaa","strokeWidth":8,"interpolate":"monotone"}},
{"data":{"name":"det"},"mark":{"type":"line","color":"#000","strokeWidth":6.5,"interpolate":"monotone"}},
{"data":{"name":"und"},"mark":{"type":"line","color":"#000","strokeWidth":7,"strokeDash":[24,11],"interpolate":"monotone"}},
{"data":{"values":[{"x":0,"y":-0.335,"y2":0.7}]},"mark":{"type":"rule","color":"#000","strokeWidth":1.5},"encoding":{"y2":{"field":"y2"}}},
{"data":{"values":[{"x":-17.1,"x2":19.3,"y":0.7,"y2":0.854}]},"mark":{"type":"rect","fill":"#fff","stroke":"#000","strokeWidth":1.5},"encoding":{"x2":{"field":"x2"},"y2":{"field":"y2"}}},
{"data":{"values":[{"x":1.2,"y":0.757,"t":"Target"},{"x":1.2,"y":0.811,"t":"Onset"}]},"mark":{"type":"text","font":"Liberation Sans","fontSize":15,"color":"#333"},"encoding":{"text":{"field":"t"}}},
{"data":{"values":[{"x":-72.7,"y":-0.184,"t":"Pz"}]},"mark":{"type":"text","font":"Liberation Sans","fontSize":15,"color":"#444"},"encoding":{"text":{"field":"t"}}},
{"data":{"values":[{"x":-76.9,"x2":-68.9,"y":-0.156}]},"mark":{"type":"rule","color":"#444","strokeWidth":1},"encoding":{"x2":{"field":"x2"}}},
{"data":{"values":[{"x":-126.4,"y":-0.363,"t":"F"}]},"mark":{"type":"text","font":"Liberation Sans","fontSize":35,"fontWeight":"bold","color":"#000"},"encoding":{"text":{"field":"t"}}},
{"data":{"values":[{"x":45.9,"x2":69,"y":0.423}]},"mark":{"type":"rule","color":"#000","strokeWidth":11,"strokeDash":[11.6,11.6]},"encoding":{"x2":{"field":"x2"}}},
{"data":{"values":[{"x":45.9,"x2":69,"y":0.509}]},"mark":{"type":"rule","color":"#000","strokeWidth":11},"encoding":{"x2":{"field":"x2"}}},
{"data":{"values":[{"x":45.9,"x2":69,"y":0.609}]},"mark":{"type":"rule","color":"#aaaaaa","strokeWidth":10},"encoding":{"x2":{"field":"x2"}}},
{"data":{"values":[{"x":70.8,"y":0.423,"t":"Undetected"},{"x":70.8,"y":0.509,"t":"Detected"},{"x":70.8,"y":0.609,"t":"All"}]},"mark":{"type":"text","align":"left","font":"Liberation Sans","fontSize":17,"fontWeight":"bold","color":"#222"},"encoding":{"text":{"field":"t"}}}
]}
]
}
